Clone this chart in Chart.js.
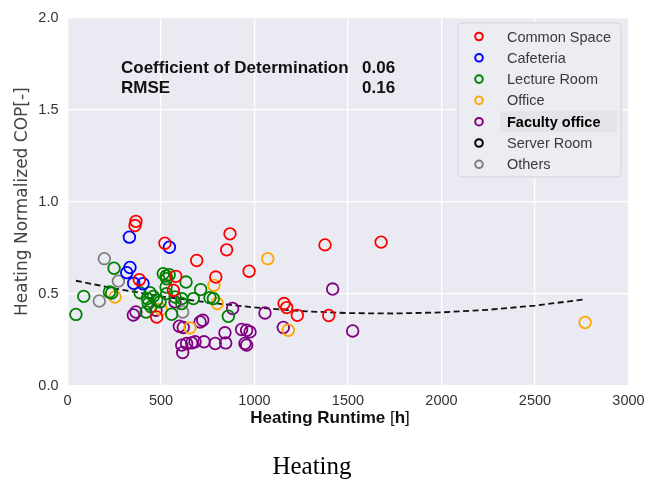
<!DOCTYPE html>
<html>
<head>
<meta charset="utf-8">
<script src="https://cdn.jsdelivr.net/npm/chart.js@4.4.1/dist/chart.umd.min.js"></script>
<style>
  html, body { margin: 0; padding: 0; background: #fff; }
  #wrap { width: 660px; height: 484px; }
</style>
</head>
<body>
<div id="wrap"><canvas id="cop"></canvas></div>
<script>
// heating runtime [h] and normalized COP [-] per room type
const commonRuntime = [366, 361, 521, 869, 851, 691, 971, 793, 579, 384, 566, 477, 1377, 1677, 1158, 1172, 1229, 1397];
const commonCop     = [0.893, 0.870, 0.774, 0.825, 0.738, 0.680, 0.622, 0.590, 0.594, 0.576, 0.518, 0.373, 0.765, 0.780, 0.446, 0.424, 0.382, 0.381];

const cafeRuntime = [331, 545, 334, 317, 354, 404];
const cafeCop     = [0.807, 0.752, 0.642, 0.614, 0.556, 0.554];

const lectureRuntime = [45, 87, 249, 224, 236, 388, 420, 432, 441, 427, 446, 459, 477, 495, 512, 527, 544, 530, 527, 530, 575, 557, 611, 611, 634, 673, 712, 762, 780, 860];
const lectureCop     = [0.387, 0.485, 0.638, 0.509, 0.503, 0.505, 0.400, 0.446, 0.505, 0.473, 0.428, 0.485, 0.464, 0.455, 0.608, 0.596, 0.603, 0.581, 0.536, 0.500, 0.482, 0.388, 0.473, 0.446, 0.563, 0.473, 0.522, 0.478, 0.473, 0.377];

const officeRuntime = [254, 500, 655, 783, 801, 1071, 1181, 2768];
const officeCop     = [0.482, 0.415, 0.314, 0.545, 0.446, 0.690, 0.301, 0.343];

const facultyRuntime = [352, 366, 473, 575, 598, 619, 709, 723, 611, 616, 637, 664, 682, 730, 790, 842, 846, 883, 931, 958, 976, 949, 958, 1056, 1154, 1418, 1525];
const facultyCop     = [0.384, 0.400, 0.410, 0.455, 0.323, 0.316, 0.346, 0.355, 0.220, 0.180, 0.229, 0.232, 0.238, 0.238, 0.229, 0.287, 0.232, 0.419, 0.305, 0.301, 0.292, 0.229, 0.220, 0.395, 0.316, 0.525, 0.297];

const serverRuntime = [];
const serverCop     = [];

const otherRuntime = [197, 170, 272, 616];
const otherCop     = [0.690, 0.460, 0.568, 0.400];

// regression curve
const fitRuntime = [45, 250, 500, 750, 1000, 1250, 1500, 1750, 2000, 2250, 2500, 2768];
const fitCop     = [0.570, 0.528, 0.485, 0.452, 0.425, 0.405, 0.394, 0.392, 0.398, 0.412, 0.435, 0.469];

const groupNames  = ['Common Space', 'Cafeteria', 'Lecture Room', 'Office', 'Faculty office', 'Server Room', 'Others'];
const groupColors = ['#ff0000', '#0000ff', '#008000', '#ffa500', '#800080', '#000000', '#808080'];
const groupX = [commonRuntime, cafeRuntime, lectureRuntime, officeRuntime, facultyRuntime, serverRuntime, otherRuntime];
const groupY = [commonCop, cafeCop, lectureCop, officeCop, facultyCop, serverCop, otherCop];

const xTicks = [0, 500, 1000, 1500, 2000, 2500, 3000];
const yTicks = [0, 0.5, 1.0, 1.5, 2.0];

const statNames  = ['Coefficient of Determination', 'RMSE'];
const statValues = ['0.06', '0.16'];
const xTitle = ['Heating Runtime ', '[', 'h', ']'];
const caption = 'Heating';

const pts = (xs, ys) => xs.map((x, i) => ({ x, y: ys[i] }));

const datasets = groupNames.map((name, i) => ({
  label: name,
  data: pts(groupX[i], groupY[i]),
  borderColor: groupColors[i],
  backgroundColor: 'rgba(0,0,0,0)',
  pointRadius: 5.8,
  pointBorderWidth: 1.8,
  showLine: false
}));
datasets.push({
  label: 'fit',
  data: pts(fitRuntime, fitCop),
  showLine: true,
  borderColor: '#111',
  borderWidth: 1.8,
  borderDash: [6, 3.5],
  pointRadius: 0,
  fill: false
});

// grey plot face behind everything
const plotFace = {
  id: 'plotFace',
  beforeDraw(chart) {
    const { ctx, chartArea: a } = chart;
    ctx.save();
    ctx.fillStyle = '#eaeaf2';
    ctx.fillRect(a.left, a.top, a.right - a.left, a.bottom - a.top);
    ctx.restore();
  }
};

// statistics block, legend box, axis title and caption
const extras = {
  id: 'extras',
  afterDraw(chart) {
    const ctx = chart.ctx;
    ctx.save();
    ctx.fillStyle = '#111';
    ctx.font = 'bold 17px "Liberation Sans", Arial, sans-serif';
    ctx.textBaseline = 'alphabetic';
    statNames.forEach((s, i) => {
      ctx.fillText(s, 121, 73 + i * 20);
      ctx.fillText(statValues[i], 362, 73 + i * 20);
    });

    // legend
    const bx = 458, by = 23, bw = 163, bh = 154;
    ctx.beginPath();
    ctx.roundRect(bx, by, bw, bh, 4);
    ctx.fillStyle = 'rgba(236,236,243,0.92)';
    ctx.fill();
    ctx.strokeStyle = '#d2d2d8';
    ctx.lineWidth = 1;
    ctx.stroke();

    const rowY = i => 36.5 + i * 21.3;
    ctx.fillStyle = '#e4e4e8';
    ctx.fillRect(500, rowY(4) - 10.5, 117, 21);

    ctx.textBaseline = 'middle';
    groupNames.forEach((name, i) => {
      const y = rowY(i);
      ctx.beginPath();
      ctx.arc(479, y, 3.8, 0, Math.PI * 2);
      ctx.strokeStyle = groupColors[i];
      ctx.lineWidth = 2;
      ctx.stroke();
      const bold = name === 'Faculty office';
      ctx.font = (bold ? 'bold ' : '') + '14.5px "Liberation Sans", Arial, sans-serif';
      ctx.fillStyle = bold ? '#000' : '#3a3a3a';
      ctx.fillText(name, 507, y + 1);
    });

    // x axis title: brackets in regular weight, the rest bold
    const fonts = ['bold 17px "Liberation Sans", Arial', '17px "Liberation Sans", Arial'];
    const parts = xTitle.map(t => ({ t, f: (t === '[' || t === ']') ? fonts[1] : fonts[0] }));
    const widths = parts.map(p => { ctx.font = p.f; return ctx.measureText(p.t).width; });
    let tx = 330 - widths.reduce((a, b) => a + b, 0) / 2;
    ctx.fillStyle = '#111';
    ctx.textBaseline = 'middle';
    parts.forEach((p, i) => { ctx.font = p.f; ctx.fillText(p.t, tx, 418); tx += widths[i]; });

    // caption under the figure
    ctx.font = '25px "Liberation Serif", "Times New Roman", serif';
    ctx.fillStyle = '#000';
    ctx.textAlign = 'center';
    ctx.textBaseline = 'alphabetic';
    ctx.fillText(caption, 312, 474);
    ctx.restore();
  }
};

new Chart(document.getElementById('cop'), {
  type: 'scatter',
  data: { datasets },
  options: {
    responsive: true,
    maintainAspectRatio: false,
    animation: false,
    devicePixelRatio: 1,
    events: [],
    layout: { padding: { top: 16.6, right: 31.5, left: 0, bottom: 0 } },
    plugins: { legend: { display: false }, tooltip: { enabled: false } },
    scales: {
      x: {
        type: 'linear', min: 0, max: 3000,
        afterBuildTicks: s => { s.ticks = xTicks.map(v => ({ value: v })); },
        afterFit: s => { s.height = 98.4; },
        grid: { color: '#ffffff', lineWidth: 1.3, drawTicks: false },
        border: { display: false },
        ticks: {
          padding: 7, color: '#333',
          font: { family: '"Liberation Sans", Arial', size: 14.5 },
          callback: v => String(v)
        }
      },
      y: {
        type: 'linear', min: 0, max: 2,
        afterBuildTicks: s => { s.ticks = yTicks.map(v => ({ value: v })); },
        afterFit: s => { s.width = 67.5; },
        grid: { color: '#ffffff', lineWidth: 1.3, drawTicks: false },
        border: { display: false },
        ticks: {
          padding: 9, color: '#333',
          font: { family: '"Liberation Sans", Arial', size: 14.5 },
          callback: v => Number(v).toFixed(1)
        },
        title: {
          display: true, text: 'Heating Normalized COP[-]', color: '#444',
          font: { family: '"DejaVu Sans", sans-serif', size: 17 },
          padding: { top: 12, bottom: 0 }
        }
      }
    }
  },
  plugins: [plotFace, extras]
});
</script>
</body>
</html>
